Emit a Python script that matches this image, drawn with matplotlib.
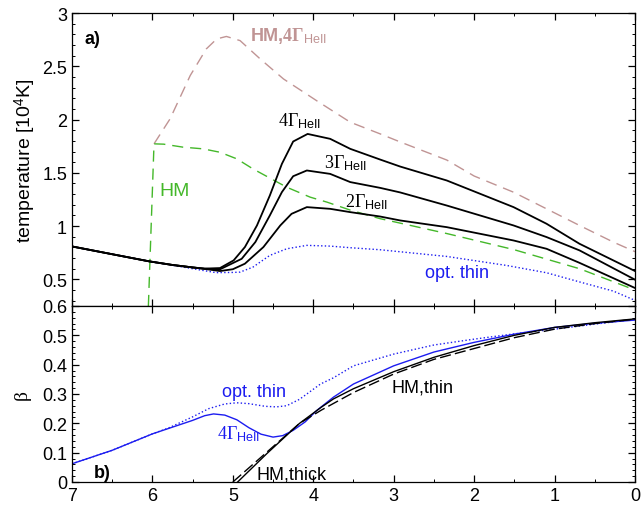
import numpy as np
import matplotlib.pyplot as plt
from matplotlib.ticker import MultipleLocator

plt.rcParams['font.family'] = ['Liberation Sans', 'DejaVu Sans']
plt.rcParams['mathtext.fontset'] = 'custom'
plt.rcParams['mathtext.rm'] = 'Liberation Serif'
plt.rcParams['mathtext.it'] = 'Liberation Serif:italic'
plt.rcParams['mathtext.bf'] = 'Liberation Serif:bold'
plt.rcParams['mathtext.sf'] = 'Liberation Sans'

# ---------------------------------------------------------------------------
# panel a) temperature [10^4 K]
# ---------------------------------------------------------------------------
x_g2 = [7.0, 6.5, 6.04, 5.75, 5.5, 5.35, 5.16, 5.0, 4.85, 4.62, 4.41, 4.27, 4.08,
        3.79, 3.54, 3.17, 2.92, 2.34, 1.51, 1.1, 0.69, 0.0]
t_g2 = [0.809, 0.736, 0.669, 0.635, 0.612, 0.598, 0.578, 0.595, 0.647, 0.803, 1.006,
        1.115, 1.178, 1.162, 1.131, 1.09, 1.053, 0.99, 0.865, 0.787, 0.655, 0.419]

x_g3 = [7.0, 6.5, 6.04, 5.75, 5.5, 5.35, 5.16, 4.89, 4.72, 4.54, 4.39, 4.25, 4.08,
        3.79, 3.54, 3.17, 2.92, 2.34, 1.51, 1.1, 0.69, 0.0]
t_g3 = [0.809, 0.736, 0.669, 0.635, 0.612, 0.600, 0.594, 0.693, 0.85, 1.10, 1.319,
        1.468, 1.522, 1.49, 1.413, 1.359, 1.316, 1.193, 1.006, 0.897, 0.772, 0.497]

x_g4 = [7.0, 6.5, 6.04, 5.75, 5.5, 5.35, 5.16, 4.99, 4.85, 4.70, 4.54, 4.39, 4.25,
        4.07, 3.79, 3.54, 3.17, 2.92, 2.34, 1.51, 1.1, 0.69, 0.0]
t_g4 = [0.809, 0.736, 0.669, 0.635, 0.612, 0.601, 0.606, 0.678, 0.803, 1.006, 1.287,
        1.584, 1.794, 1.865, 1.819, 1.725, 1.625, 1.559, 1.428, 1.178, 1.022, 0.834, 0.578]

x_thin = [7.0, 6.5, 6.04, 5.75, 5.5, 5.21, 5.0, 4.91, 4.75, 4.54, 4.33, 4.08, 3.79,
          3.54, 3.17, 2.34, 1.6, 1.1, 0.685, 0.27, 0.0]
t_thin = [0.809, 0.736, 0.669, 0.632, 0.600, 0.563, 0.565, 0.568, 0.615, 0.725, 0.787,
          0.819, 0.812, 0.797, 0.778, 0.715, 0.631, 0.562, 0.475, 0.39, 0.303]

x_hm = [6.05, 5.98, 5.86, 5.62, 5.37, 5.16, 4.95, 4.75, 4.33, 4.04, 3.83, 3.54, 3.17,
        2.34, 1.51, 0.69, 0.0]
t_hm = [0.25, 1.772, 1.769, 1.741, 1.725, 1.693, 1.631, 1.537, 1.365, 1.272, 1.225,
        1.15, 1.07, 0.93, 0.78, 0.60, 0.40]

x_hm4 = [5.98, 5.78, 5.53, 5.33, 5.20, 5.08, 4.91, 4.66, 4.37, 3.96, 3.54, 3.17, 2.92,
         2.34, 2.0, 1.51, 0.69, 0.27, 0.0]
t_hm4 = [1.772, 2.007, 2.413, 2.663, 2.757, 2.78, 2.741, 2.569, 2.381, 2.178, 1.975,
         1.866, 1.79, 1.62, 1.47, 1.318, 1.006, 0.85, 0.76]

# ---------------------------------------------------------------------------
# panel b) beta
# ---------------------------------------------------------------------------
x_b4 = [7.0, 6.5, 6.0, 5.5, 5.35, 5.24, 5.1, 4.95, 4.8, 4.65, 4.5, 4.38, 4.25, 4.1,
        3.96, 3.75, 3.5, 3.0, 2.5, 2.0, 1.5, 1.0, 0.5, 0.0]
b_b4 = [0.062, 0.108, 0.164, 0.21, 0.226, 0.232, 0.228, 0.212, 0.185, 0.163, 0.153,
        0.158, 0.176, 0.205, 0.243, 0.289, 0.334, 0.396, 0.443, 0.476, 0.504, 0.527,
        0.541, 0.552]

x_bthin = [7.0, 6.5, 6.0, 5.8, 5.5, 5.3, 5.1, 4.95, 4.8, 4.6, 4.46, 4.33, 4.17, 3.91,
           3.75, 3.5, 3.0, 2.5, 2.0, 1.5, 1.0, 0.5, 0.0]
b_bthin = [0.062, 0.108, 0.164, 0.184, 0.222, 0.250, 0.266, 0.270, 0.267, 0.258, 0.256,
           0.260, 0.282, 0.334, 0.355, 0.396, 0.436, 0.467, 0.487, 0.505, 0.521, 0.538,
           0.555]

x_hmthin = [4.94, 4.58, 4.17, 3.9, 3.75, 3.5, 3.0, 2.5, 2.0, 1.5, 1.0, 0.5, 0.0]
b_hmthin = [0.0, 0.096, 0.200, 0.255, 0.283, 0.318, 0.376, 0.425, 0.465, 0.500, 0.527,
            0.543, 0.556]

x_hmthick = [5.0, 4.58, 4.17, 3.9, 3.5, 3.0, 2.5, 2.0, 1.5, 1.0, 0.5, 0.0]
b_hmthick = [0.0, 0.101, 0.200, 0.245, 0.305, 0.368, 0.418, 0.455, 0.492, 0.521, 0.540,
             0.555]

azul = '#1c1cf0'
verde = '#44b82a'
rosa = '#c09494'

fig = plt.figure(figsize=(6.42, 5.06), dpi=100)
ax1 = fig.add_axes([0.1121, 0.3933, 0.877, 0.579])
ax2 = fig.add_axes([0.1121, 0.0455, 0.877, 0.3478])

# --- a) ---
ax1.plot(x_hm4, t_hm4, color=rosa, lw=1.0, dashes=(8, 5))
ax1.plot(x_hm, t_hm, color=verde, lw=1.0, dashes=(8, 5))
ax1.plot(x_thin, t_thin, color=azul, lw=1.0, ls=':')
for xs, ts in [(x_g2, t_g2), (x_g3, t_g3), (x_g4, t_g4)]:
    ax1.plot(xs, ts, color='black', lw=1.3)

ax1.set_xlim(7, 0)
ax1.set_ylim(0.25, 3)
ax1.set_yticks([0.5, 1, 1.5, 2, 2.5, 3])
ax1.set_yticklabels(['0.5', '1', '1.5', '2', '2.5', '3'])
ax1.yaxis.set_minor_locator(MultipleLocator(0.1))
ax1.xaxis.set_major_locator(MultipleLocator(1))
ax1.xaxis.set_minor_locator(MultipleLocator(0.5))
ax1.tick_params(labelbottom=False)
ax1.set_ylabel(r'temperature [10$^{\mathsf{4}}$K]', fontsize=14, labelpad=3)

ax1.text(6.85, 2.76, 'a)', fontsize=13, fontweight='bold', va='center')
ax1.text(4.79, 2.79, r'HM,$\mathbf{4\Gamma}_{\mathsf{HeII}}$', color=rosa,
         fontsize=13, fontweight='bold', va='center')
ax1.text(4.44, 1.99, r'$4\Gamma_{\mathsf{HeII}}$', fontsize=13, va='center')
ax1.text(3.87, 1.60, r'$3\Gamma_{\mathsf{HeII}}$', fontsize=13, va='center')
ax1.text(3.61, 1.23, r'$2\Gamma_{\mathsf{HeII}}$', fontsize=13, va='center')
ax1.text(5.91, 1.335, 'HM', color=verde, fontsize=14, va='center')
ax1.text(2.61, 0.56, 'opt. thin', color=azul, fontsize=13, va='center')

# --- b) ---
ax2.plot(x_bthin, b_bthin, color=azul, lw=1.0, ls=':')
ax2.plot(x_b4, b_b4, color=azul, lw=1.0)
ax2.plot(x_hmthick, b_hmthick, color='black', lw=1.0, dashes=(8, 3))
ax2.plot(x_hmthin, b_hmthin, color='black', lw=1.0)

ax2.set_xlim(7, 0)
ax2.set_ylim(0, 0.6)
ax2.set_yticks([0, 0.1, 0.2, 0.3, 0.4, 0.5, 0.6])
ax2.set_yticklabels(['0', '0.1', '0.2', '0.3', '0.4', '0.5', '0.6'])
ax2.yaxis.set_minor_locator(MultipleLocator(0.02))
ax2.set_xticks(range(8))
ax2.set_xticklabels([str(i) for i in range(8)])
ax2.xaxis.set_minor_locator(MultipleLocator(0.5))
ax2.set_ylabel('β', fontsize=14, family='Liberation Serif', labelpad=8)

ax2.text(6.73, 0.033, 'b)', fontsize=13, fontweight='bold', va='center')
ax2.text(5.14, 0.307, 'opt. thin', color=azul, fontsize=13, va='center')
ax2.text(5.20, 0.167, r'$4\Gamma_{\mathsf{HeII}}$', color=azul, fontsize=13, va='center')
ax2.text(4.70, 0.027, 'HM,thick', fontsize=13, va='center')
ax2.text(3.03, 0.323, 'HM,thin', fontsize=13, va='center')

for ax in (ax1, ax2):
    ax.tick_params(which='both', direction='in', top=True, right=True, labelsize=13)
    ax.tick_params(which='major', length=5, width=0.9)
    ax.tick_params(which='minor', length=2.5, width=0.7)
    for s in ax.spines.values():
        s.set_linewidth(0.9)

fig.savefig('out.png', dpi=100)
